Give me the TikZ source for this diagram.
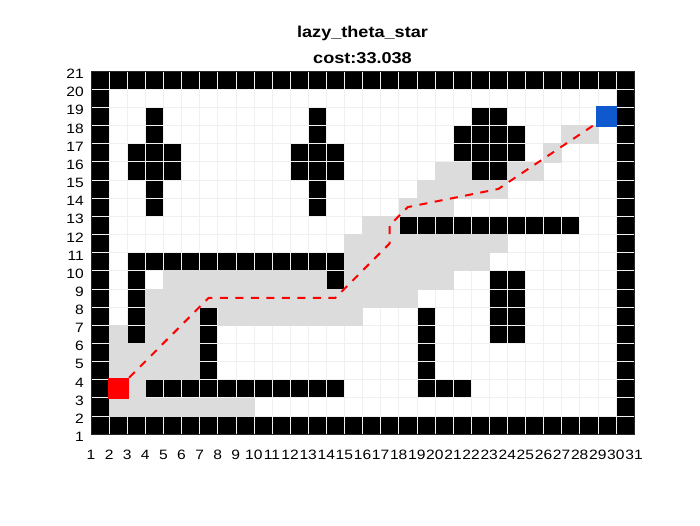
\documentclass[tikz,border=0pt]{standalone}
\usepackage{fontspec}
\setmainfont{Liberation Sans}[FakeStretch=1.15]
\definecolor{seengrey}{HTML}{DCDCDC}
\definecolor{gridgrey}{HTML}{F0F0F0}
\definecolor{axisgrey}{HTML}{262626}
\definecolor{goalblue}{HTML}{0F59CF}

\begin{document}
\begin{tikzpicture}[x=18.1bp, y=18.15bp,
      wall/.style={fill=black},
      seen/.style={fill=seengrey, draw=seengrey, line width=0.4bp},
      gridline/.style={draw=gridgrey, line width=0.6bp},
      route/.style={draw=red, line width=2bp, dash pattern=on 8bp off 7.5bp},
      marker/.style={minimum size=21bp, inner sep=0pt, draw=none},
      tick/.style={inner sep=0pt, font=\fontsize{13.6}{16}\selectfont},
      heading/.style={anchor=base, inner sep=0pt,
                      font=\bfseries\fontsize{15.8}{18}\selectfont}]
  \useasboundingbox[fill=white] (-4.0276,-4.0138) rectangle (34.646,24.912);
  \foreach \r/\a/\b in {1/1/30, 20/1/30, 3/4/14, 3/19/21, 10/3/14, 12/18/27,
      15/3/5, 16/3/5, 15/12/14, 16/12/14, 15/22/23, 16/21/24, 17/21/24, 18/22/23}
    \fill[wall] (\a,\r) rectangle (\b+1,\r+1);
  \foreach \c/\a/\b in {1/2/19, 30/2/19, 3/6/9, 7/4/7, 14/9/9, 19/4/7, 23/6/9,
      24/6/9, 4/13/14, 4/17/18, 13/13/14, 13/17/18}
    \fill[wall] (\c,\a) rectangle (\c+1,\b+1);
  \foreach \i in {1,...,31}
    \draw[gridline] (\i,1) -- (\i,21);
  \foreach \j in {1,...,21}
    \draw[gridline] (1,\j) -- (31,\j);
  \foreach \r/\a/\b in {2/2/9, 3/3/3, 4/2/6, 5/2/6, 6/2/2, 6/4/6, 7/4/6, 7/8/15,
      8/4/18, 9/5/13, 9/15/20, 10/15/22, 11/15/23, 12/16/17, 13/18/20,
      14/19/23, 15/20/21, 15/24/25, 16/26/26, 17/27/28}
    \fill[seen] (\a,\r) rectangle (\b+1,\r+1);
  \draw[axisgrey, line width=0.5bp] (1,1) rectangle (31,21);

  \coordinate (start) at (2.5,3.5);
  \coordinate (goal) at (29.5,18.5);
  \draw[route] (start) -- (7.5,8.5) -- (14.5,8.5) -- (17.5,11.5) -- (17.5,12.5)
    -- (18.5,13.5) -- (23.5,14.5) -- (goal);
  \node[marker, fill=red] (startbox) at (start) {};
  \node[marker, fill=goalblue] (goalbox) at (goal) {};

  \foreach \i in {1,...,31}
    \node[tick, below=15.5bp] (x\i) at (\i,1) {\i};
  \foreach \j in {1,...,21}
    \node[tick, left=7bp, yshift=-3bp] (y\j) at (1,\j) {\j};
  \node[heading] (title) at (16,22.857) {lazy\_theta\_star};
  \node[heading] (cost) at (16,21.42) {cost:33.038};
\end{tikzpicture}
\end{document}
